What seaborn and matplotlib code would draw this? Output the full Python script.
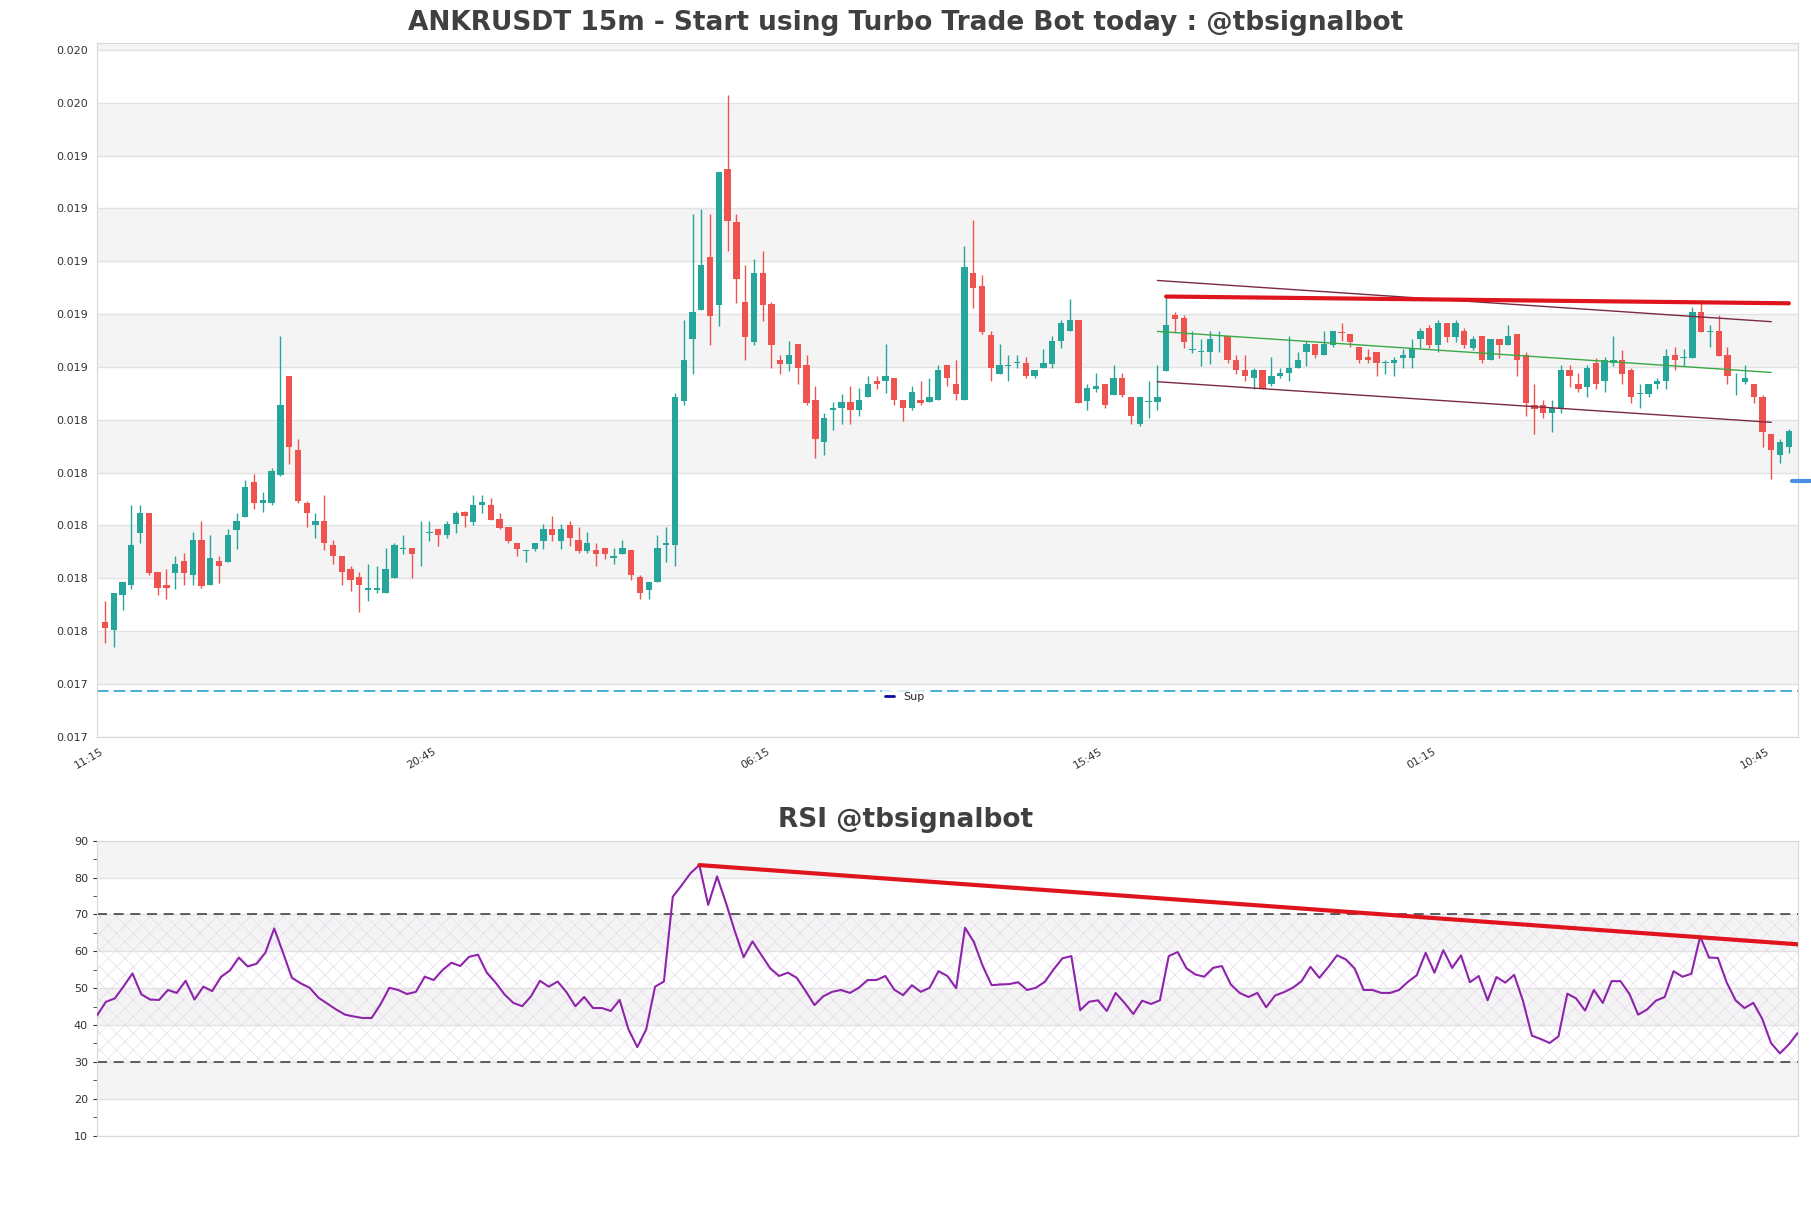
import numpy as np
import pandas as pd
import matplotlib
matplotlib.use("Agg")
import matplotlib.pyplot as plt
import seaborn as sns
from matplotlib.lines import Line2D

# prices in units of 1e-6 USDT
opens = [17544,17504,17669,17717,17966,18059,17781,17720,17776,17833,
17768,17933,17717,17833,17829,17979,18042,18207,18106,18106,
18241,18707,18357,18106,18004,18021,17907,17857,17795,17757,
17696,17694,17679,17753,17888,17895,17882,17964,17981,17954,
18006,18063,18017,18097,18097,18032,17994,17918,17880,17890,
17928,17981,17928,18004,17933,17880,17884,17895,17844,17867,
17884,17757,17694,17732,17907,17907,18591,18882,19017,19270,
19045,19686,19435,19059,18869,19194,19047,18783,18766,18859,
18760,18593,18393,18547,18555,18585,18545,18608,18684,18684,
18699,18593,18555,18593,18585,18593,18760,18667,18593,19194,
19133,18899,18718,18756,18770,18768,18705,18743,18766,18872,
18920,18971,18591,18646,18667,18618,18696,18608,18481,18583,
18583,18732,18996,18981,18829,18819,18819,18895,18897,18781,
18734,18696,18734,18667,18705,18722,18743,18819,18859,18806,
18855,18916,18907,18844,18796,18821,18770,18768,18794,18794,
18882,18933,18855,18956,18893,18920,18840,18897,18781,18882,
18855,18907,18806,18568,18568,18530,18553,18734,18667,18654,
18768,18682,18768,18783,18734,18620,18620,18667,18682,18806,
18791,18794,19009,18916,18920,18806,18667,18680,18667,18606,
18431,18334,18369]
highs = [17644,17679,17732,18097,18097,18059,17781,17793,17857,17869,
17971,18021,17956,17857,17983,18059,18217,18243,18158,18270,
18897,18707,18409,18118,18059,18144,17933,17857,17806,17779,
17819,17808,17895,17918,17956,17895,18021,18021,17981,18021,
18070,18070,18144,18144,18129,18059,17994,17918,17886,17916,
18006,18044,18006,18021,17994,17971,17916,17895,17895,17933,
17884,17768,17732,17956,17994,18629,18971,19475,19498,19475,
19671,20034,19473,19232,19260,19298,19059,18806,18872,18859,
18806,18661,18534,18585,18623,18661,18648,18709,18709,18859,
18699,18593,18661,18684,18699,18760,18760,18783,19321,19443,
19184,18920,18859,18806,18806,18798,18734,18834,18897,18971,
19072,18971,18671,18722,18667,18760,18722,18608,18608,18682,
18760,19087,19009,18996,18920,18882,18920,18920,18897,18806,
18806,18743,18734,18798,18743,18897,18821,18872,18859,18920,
18920,18960,18907,18844,18834,18821,18783,18798,18834,18882,
18933,18948,18971,18956,18971,18933,18897,18897,18882,18882,
18948,18907,18819,18667,18593,18593,18760,18760,18722,18760,
18794,18798,18897,18831,18743,18667,18667,18696,18834,18842,
18834,19034,19057,18948,18996,18842,18722,18760,18667,18618,
18431,18407,18456]
lows = [17443,17426,17601,17701,17916,17768,17669,17654,17701,17717,
17717,17705,17717,17728,17829,17890,18042,18080,18066,18097,
18234,18293,18106,17992,17943,17884,17819,17717,17692,17593,
17641,17682,17679,17753,17867,17753,17806,17928,17905,17943,
17964,17992,18004,18057,18028,17981,17916,17855,17829,17880,
17890,17928,17890,17905,17869,17869,17806,17842,17817,17867,
17743,17654,17654,17732,17829,17806,18570,18718,19017,18855,
18945,19298,19053,18781,18855,18969,18745,18718,18730,18667,
18570,18317,18334,18454,18481,18481,18519,18608,18646,18629,
18570,18492,18545,18570,18585,18593,18661,18593,18593,19030,
18907,18682,18718,18682,18743,18696,18696,18743,18743,18840,
18920,18580,18545,18631,18555,18618,18608,18481,18469,18507,
18545,18732,18916,18840,18817,18756,18766,18819,18768,18718,
18682,18646,18646,18658,18696,18682,18743,18756,18794,18806,
18842,18872,18844,18768,18768,18705,18718,18705,18743,18743,
18840,18840,18819,18867,18867,18840,18831,18768,18781,18794,
18855,18705,18519,18431,18507,18443,18530,18654,18631,18606,
18646,18631,18756,18667,18580,18555,18606,18646,18646,18734,
18756,18794,18916,18842,18804,18667,18618,18671,18580,18369,
18220,18296,18342]
closes = [17517,17679,17732,17907,18059,17776,17705,17703,17819,17776,
17933,17715,17846,17806,17956,18021,18182,18106,18120,18258,
18570,18369,18118,18057,18019,17916,17855,17779,17743,17717,
17705,17705,17793,17907,17895,17867,17886,17971,17954,18006,
18061,18044,18097,18110,18028,17990,17928,17890,17884,17916,
17983,17954,17983,17943,17880,17916,17867,17867,17855,17895,
17768,17679,17732,17895,17916,18608,18783,19009,19232,18992,
19671,19441,19167,18893,19194,19045,18855,18766,18806,18743,
18580,18407,18509,18555,18585,18545,18593,18667,18667,18709,
18593,18555,18631,18580,18608,18734,18699,18620,19224,19123,
18916,18743,18760,18760,18775,18705,18734,18768,18872,18960,
18971,18580,18648,18661,18568,18696,18618,18519,18608,18587,
18608,18948,18977,18867,18834,18823,18882,18899,18781,18734,
18705,18734,18646,18707,18722,18743,18783,18859,18806,18859,
18920,18912,18869,18781,18781,18768,18775,18783,18806,18840,
18920,18855,18956,18893,18956,18855,18882,18781,18882,18855,
18897,18781,18580,18553,18530,18555,18734,18705,18646,18745,
18667,18783,18783,18718,18606,18629,18667,18684,18804,18781,
18796,19009,18916,18920,18804,18705,18671,18696,18606,18443,
18357,18393,18445]

rsi = [42.6,46.3,47.2,50.5,54.0,48.3,46.9,46.8,49.5,48.7,
52.0,46.9,50.4,49.2,53.1,54.8,58.3,55.9,56.6,59.6,
66.2,59.6,52.8,51.3,50.1,47.4,45.8,44.2,42.8,42.3,
41.9,41.9,45.6,50.1,49.5,48.4,49.0,53.1,52.2,54.9,
56.9,56.0,58.5,59.1,54.2,51.5,48.3,46.0,45.1,47.8,
52.0,50.4,51.8,48.9,45.1,47.6,44.6,44.6,43.8,46.8,
38.8,34.0,38.8,50.4,51.8,74.8,77.9,81.2,
83.4,72.6,80.3,73.2,65.5,58.4,62.7,59.0,55.4,53.3,
54.2,52.8,49.2,45.4,47.8,49.0,49.5,48.7,50.1,52.2,
52.2,53.3,49.6,48.1,50.8,49.0,50.1,54.6,53.3,50.0,
66.4,62.5,56.0,50.8,51.0,51.1,51.6,49.5,50.1,51.7,
55.1,58.1,58.7,44.0,46.3,46.7,43.8,48.7,46.0,43.0,
46.6,45.7,46.7,58.7,59.8,55.4,53.7,53.1,55.5,56.0,
51.0,48.7,47.6,48.7,44.8,48.0,
48.9,50.1,51.9,55.8,52.8,55.7,58.9,57.8,55.3,49.5,
49.5,48.7,48.7,49.5,51.7,53.5,59.6,54.2,60.3,55.5,
58.9,51.6,53.3,46.7,53.0,51.5,53.6,46.5,37.1,36.2,
35.1,36.9,48.5,47.2,43.9,49.5,46.0,51.9,51.9,48.5,
42.8,44.2,46.6,47.6,54.6,53.1,53.9,64.0,58.3,58.2,
51.5,46.7,44.6,46.0,41.7,35.1,32.3,34.7,37.8]

x_tick_labels = ["11:15", "20:45", "06:15", "15:45", "01:15", "10:45"]
y_tick_labels = ["0.017", "0.017", "0.018", "0.018", "0.018", "0.018", "0.018",
                 "0.019", "0.019", "0.019", "0.019", "0.019", "0.020", "0.020"]
support_level = 0.017215
last_marker = 0.018211
price_res = (121, 0.019083, 192, 0.019051)
chan_up = (120, 0.019159, 190, 0.018964)
chan_mid = (120, 0.018918, 190, 0.018724)
chan_lo = (120, 0.018680, 190, 0.018488)
rsi_trend = (68, 83.4, 192, 61.9)

df = pd.DataFrame({"open": np.array(opens) / 1e6, "high": np.array(highs) / 1e6,
                   "low": np.array(lows) / 1e6, "close": np.array(closes) / 1e6})
df["idx"] = np.arange(len(df))
n = len(df)

sns.set_style("white")
plt.rcParams["font.family"] = ["DejaVu Sans"]
plt.rcParams["hatch.linewidth"] = 0.4

fig = plt.figure(figsize=(18.11, 12.08), dpi=100)
ax = fig.add_axes([0.0536, 0.390, 0.9390, 0.574])
ax2 = fig.add_axes([0.0536, 0.060, 0.9390, 0.244])

GREEN, RED = "#26a69a", "#ef5350"
up = df["close"] >= df["open"]
colors = np.where(up, GREEN, RED)

yt = 0.017 + 0.00025 * np.arange(14)
for k in range(14):
    if k % 2 == 1:
        ax.axhspan(yt[k], yt[k] + 0.00025, color="#f4f4f4", zorder=0, lw=0)
for v in yt:
    ax.axhline(v, color="#e2e2e2", lw=1, zorder=0.5)

ax.vlines(df["idx"], df["low"], df["high"], colors=colors, lw=1, zorder=2)
body_bottom = np.minimum(df["open"], df["close"])
body_h = np.maximum(np.abs(df["close"] - df["open"]), 0.000004)
ax.bar(df["idx"], body_h, bottom=body_bottom, width=0.72, color=colors, lw=0, zorder=3)

ax.plot([-0.9, n], [support_level, support_level], color="#2aa0d8", lw=1.2,
        dashes=(7, 3), zorder=2)
ax.plot([n - 0.6, n + 1.4], [last_marker, last_marker], color="#4a90e2", lw=3,
        clip_on=False, zorder=4)
for (x0, y0, x1, y1), c, w in [(chan_up, "#7a2a45", 1), (chan_lo, "#7a2a45", 1),
                               (chan_mid, "#3aa845", 1), (price_res, "#e0141e", 3)]:
    ax.plot([x0, x1], [y0, y1], color=c, lw=w, zorder=4)

ax.legend([Line2D([0], [0], color="#0a0aa0", lw=2)], ["Sup"], loc="center",
          bbox_to_anchor=(0.475, 0.058), frameon=True, fontsize=8,
          handlelength=0.8, borderpad=0.3, facecolor="white", edgecolor="white")

ax.set_xlim(-0.9, n)
ax.set_ylim(0.017, 0.02028)
ax.set_yticks(yt)
ax.set_yticklabels(y_tick_labels)
ax.set_xticks(np.arange(0, n, 38))
ax.set_xticklabels(x_tick_labels, rotation=30, ha="right")
ax.tick_params(axis="both", labelsize=8, colors="#333333", length=3)
for s in ax.spines.values():
    s.set_color("#d8d8d8")

for lo in [20, 40, 60, 80]:
    ax2.axhspan(lo, lo + 10, color="#f4f4f4", zorder=0, lw=0)
for v in range(10, 91, 10):
    ax2.axhline(v, color="#e2e2e2", lw=1, zorder=0.5)
ax2.fill_between([0, n - 1], 30, 70, facecolor="none", edgecolor="#e3d3ea",
                 hatch="xx", lw=0, zorder=1)
ax2.axhline(70, color="#444444", lw=1.2, dashes=(6, 4), zorder=2)
ax2.axhline(30, color="#444444", lw=1.2, dashes=(6, 4), zorder=2)
rdf = pd.DataFrame({"idx": np.arange(len(rsi)), "rsi": rsi})
sns.lineplot(data=rdf, x="idx", y="rsi", ax=ax2, color="#8e24aa", lw=1.5, zorder=3)
x0, y0, x1, y1 = rsi_trend
ax2.plot([x0, x1], [y0, y1], color="#e0141e", lw=3, zorder=4)
ax2.set_xlim(0, len(rsi) - 1)
ax2.set_ylim(10, 90)
ax2.set_yticks(range(10, 91, 10))
ax2.set_yticks(range(15, 90, 10), minor=True)
ax2.set_xticks([])
ax2.set_xlabel("")
ax2.set_ylabel("")
ax2.tick_params(axis="y", which="both", labelsize=8, colors="#333333", length=3, left=True)
for s in ax2.spines.values():
    s.set_color("#d8d8d8")

fig.text(0.5, 0.981, "ANKRUSDT 15m - Start using Turbo Trade Bot today : @tbsignalbot",
         ha="center", va="center", fontsize=19, fontweight="bold", color="#404040")
fig.text(0.5, 0.321, "RSI @tbsignalbot", ha="center", va="center", fontsize=19,
         fontweight="bold", color="#404040")

fig.savefig("out.png", dpi=100)
